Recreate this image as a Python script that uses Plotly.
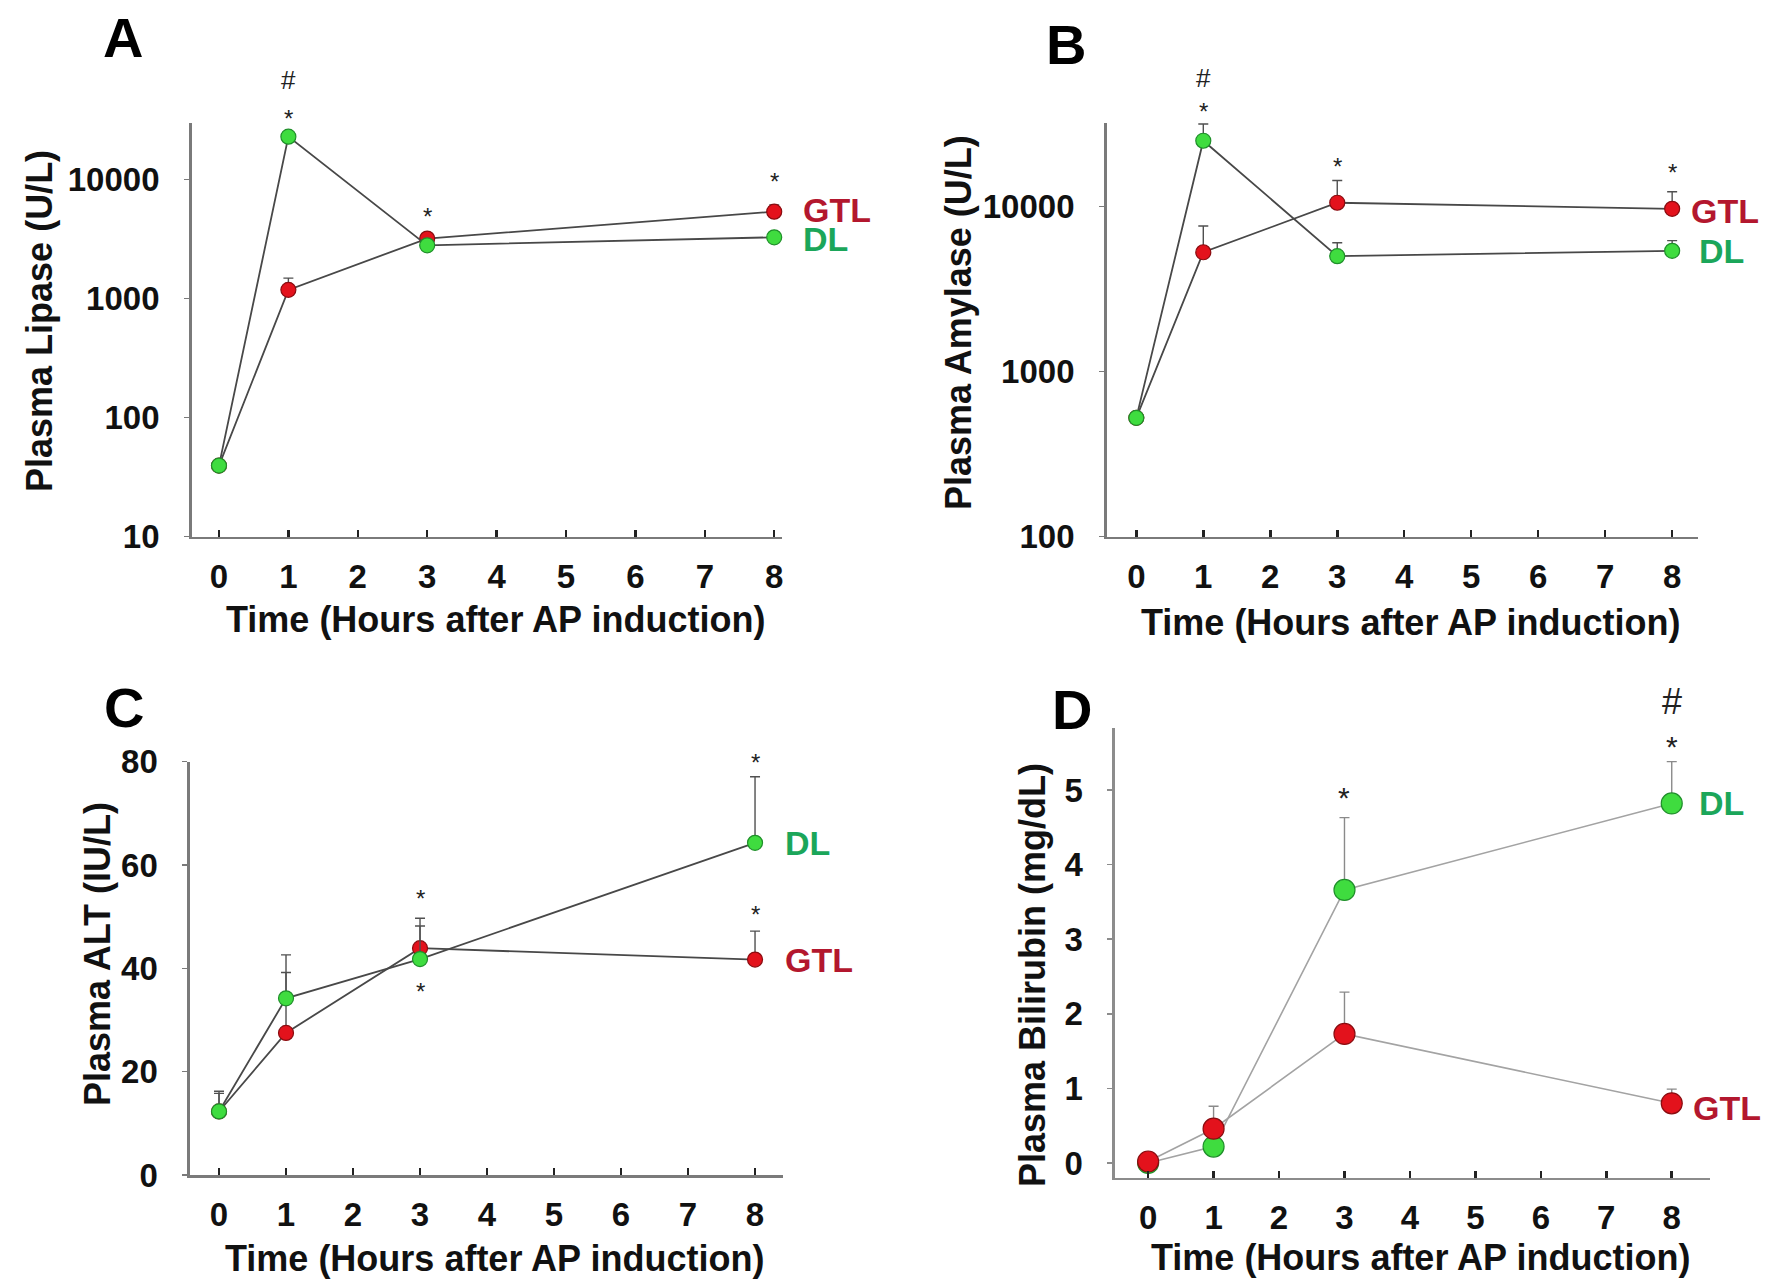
import math
import plotly.graph_objects as go

W, H = 1765, 1280

# ---------------- data ----------------
hours = [0, 1, 3, 8]
x_ticks = [0, 1, 2, 3, 4, 5, 6, 7, 8]

# Panel A - Plasma Lipase (U/L)
lipase_gtl = [39.5, 1180, 3180, 5350]
lipase_gtl_top = [39.5, 1480, 3450, 6100]
lipase_dl = [39.5, 22800, 2790, 3260]
lipase_dl_top = [39.5, 24500, 3050, 3600]
lipase_marks = [(1, 35800, "*"), (1, 68000, "#"), (3, 5350, "*"), (8, 10500, "*")]
lipase_ticks = [10, 100, 1000, 10000]

# Panel B - Plasma Amylase (U/L)
amylase_gtl = [524, 5290, 10560, 9700]
amylase_gtl_top = [524, 7640, 14400, 12300]
amylase_dl = [524, 25100, 5010, 5400]
amylase_dl_top = [524, 31700, 6040, 6220]
amylase_marks = [(1, 40300, "*"), (1, 60500, "#"), (3, 18900, "*"), (8, 17300, "*")]
amylase_ticks = [100, 1000, 10000]

# Panel C - Plasma ALT (IU/L)
alt_gtl = [12.3, 27.5, 43.9, 41.7]
alt_gtl_top = [15.8, 39.2, 49.7, 47.2]
alt_dl = [12.3, 34.2, 41.8, 64.3]
alt_dl_top = [16.2, 42.6, 48.2, 77.1]
alt_marks = [(3, 54.5, "*"), (3, 36.4, "*"), (8, 80.8, "*"), (8, 51.4, "*")]
alt_ticks = [0, 20, 40, 60, 80]

# Panel D - Plasma Bilirubin (mg/dL)
bili_gtl = [0.02, 0.46, 1.73, 0.80]
bili_gtl_top = [0.02, 0.76, 2.29, 0.99]
bili_dl = [0.0, 0.22, 3.66, 4.82]
bili_dl_top = [0.0, 0.55, 4.63, 5.38]
bili_marks = [(3, 4.97, "*"), (8, 5.65, "*"), (8, 6.18, "#")]
bili_ticks = [0, 1, 2, 3, 4, 5]

x_title = "Time (Hours after AP induction)"

# ---------------- style ----------------
FONT = "Liberation Sans, Arial, sans-serif"
RED_FILL, RED_EDGE = "#e3121c", "#8a0c10"
GRN_FILL, GRN_EDGE = "#3fdc3f", "#1f8f2a"
GTL_TXT, DL_TXT = "#b3172e", "#1ba65a"

def px_x(p):
    return p / W

def px_y(p):
    return 1 - p / H

panels = [
    dict(name="A", gtl=lipase_gtl, gtl_top=lipase_gtl_top, dl=lipase_dl, dl_top=lipase_dl_top,
         marks=lipase_marks, ticks=lipase_ticks, log=True, yr=[1, 4.475], xr=[-0.393, 8.118],
         dom_x=(191.7, 782.4), dom_y=(122.7, 536.7), ytitle="Plasma Lipase (U/L)",
         ytitle_pos=(40, 321), xtitle_y=619, letter_pos=(123, 38),
         gtl_shift=(27, 2), dl_shift=(27, -2), light=False, msize=15, dl_on_top=True),
    dict(name="B", gtl=amylase_gtl, gtl_top=amylase_gtl_top, dl=amylase_dl, dl_top=amylase_dl_top,
         marks=amylase_marks, ticks=amylase_ticks, log=True, yr=[2, 4.509], xr=[-0.442, 8.38],
         dom_x=(1106.7, 1697.6), dom_y=(122.7, 536.5), ytitle="Plasma Amylase (U/L)",
         ytitle_pos=(958, 323), xtitle_y=622, letter_pos=(1066, 44),
         gtl_shift=(17, -2), dl_shift=(25, 0), light=False, msize=15, dl_on_top=True),
    dict(name="C", gtl=alt_gtl, gtl_top=alt_gtl_top, dl=alt_dl, dl_top=alt_dl_top,
         marks=alt_marks, ticks=alt_ticks, log=False, yr=[0, 80], xr=[-0.433, 8.416],
         dom_x=(190, 782.9), dom_y=(761.7, 1175), ytitle="Plasma ALT (IU/L)",
         ytitle_pos=(97, 954), xtitle_y=1258, letter_pos=(124, 707),
         gtl_shift=(28, 0), dl_shift=(28, 0), light=False, msize=15, dl_on_top=True),
    dict(name="D", gtl=bili_gtl, gtl_top=bili_gtl_top, dl=bili_dl, dl_top=bili_dl_top,
         marks=bili_marks, ticks=bili_ticks, log=False, yr=[-0.197, 5.827], xr=[-0.506, 8.58],
         dom_x=(1115, 1709.7), dom_y=(728.3, 1177.7), ytitle="Plasma Bilirubin (mg/dL)",
         ytitle_pos=(1032, 975), xtitle_y=1257, letter_pos=(1072, 709),
         gtl_shift=(19, -5), dl_shift=(25, 0), light=True, msize=21, dl_on_top=False),
]

fig = go.Figure()
annotations = []
layout = {}

for i, p in enumerate(panels, start=1):
    xa = "x" if i == 1 else f"x{i}"
    ya = "y" if i == 1 else f"y{i}"
    line_col = "#a3a3a3" if p["light"] else "#484848"
    line_w = 1.6 if p["light"] else 1.8
    err_col = "#8a8a8a" if p["light"] else "#505050"

    def series(vals, tops, fill, edge, nm):
        return go.Scatter(
            x=hours, y=vals, mode="lines+markers", name=nm, xaxis=xa, yaxis=ya,
            line=dict(color=line_col, width=line_w),
            marker=dict(size=p["msize"], color=fill, line=dict(color=edge, width=1.2)),
            error_y=dict(type="data", symmetric=False,
                         array=[t - v for t, v in zip(tops, vals)],
                         arrayminus=[0] * len(vals),
                         color=err_col, thickness=1.4, width=5),
            showlegend=False, cliponaxis=False, hoverinfo="skip",
        )

    gtl_tr = series(p["gtl"], p["gtl_top"], RED_FILL, RED_EDGE, "GTL")
    dl_tr = series(p["dl"], p["dl_top"], GRN_FILL, GRN_EDGE, "DL")
    if p["dl_on_top"]:
        fig.add_trace(gtl_tr)
        fig.add_trace(dl_tr)
    else:
        fig.add_trace(dl_tr)
        fig.add_trace(gtl_tr)

    axis_col = "#8c8c8c" if p["light"] else "#7a7a7a"
    tfs = 33
    layout["xaxis" if i == 1 else f"xaxis{i}"] = dict(
        domain=[px_x(p["dom_x"][0]), px_x(p["dom_x"][1])], anchor=ya, automargin=False,
        range=p["xr"], tickvals=x_ticks, ticktext=[str(t) for t in x_ticks],
        showgrid=False, zeroline=False, showline=True, linecolor=axis_col, linewidth=2.6,
        ticks="inside", ticklen=7, tickwidth=2.5, tickcolor="#222222",
        tickfont=dict(family=FONT, size=tfs, color="#111111", weight="bold"),
        ticklabelstandoff=9, fixedrange=True,
    )
    if p["log"]:
        yax = dict(type="log", range=p["yr"], tickvals=p["ticks"],
                   ticktext=[str(t) for t in p["ticks"]])
    else:
        yax = dict(range=p["yr"], tickvals=p["ticks"], ticktext=[str(t) for t in p["ticks"]])
    yax.update(
        domain=[px_y(p["dom_y"][1]), px_y(p["dom_y"][0])], anchor=xa, automargin=False,
        showgrid=False, zeroline=False, showline=True, linecolor=axis_col, linewidth=2.6,
        ticks="outside", ticklen=5, tickwidth=1.5, tickcolor=axis_col,
        tickfont=dict(family=FONT, size=tfs, color="#111111", weight="bold"),
        ticklabelstandoff=18, fixedrange=True,
    )
    layout["yaxis" if i == 1 else f"yaxis{i}"] = yax

    def yv(v):
        return math.log10(v) if p["log"] else v

    def ypaper(v):
        r0, r1 = p["yr"]
        frac = (yv(v) - r0) / (r1 - r0)
        top_px, bot_px = p["dom_y"]
        return px_y(bot_px - frac * (bot_px - top_px))

    # significance marks (paper y so they can sit above the axis range)
    msz = 30 if p["light"] else 24
    for (mx, my, mt) in p["marks"]:
        sz = msz if mt == "*" else (msz + 6 if p["light"] else 26)
        annotations.append(dict(x=mx, y=ypaper(my), xref=xa, yref="paper", text=mt,
                                showarrow=False,
                                font=dict(family=FONT, size=sz, color="#222222"),
                                xanchor="center", yanchor="middle",
                                yshift=-5 if mt == "*" else 0))
    # series labels
    annotations.append(dict(x=8, y=yv(p["gtl"][-1]), xref=xa, yref=ya, text="GTL", showarrow=False,
                            xanchor="left", yanchor="middle", xshift=p["gtl_shift"][0],
                            yshift=p["gtl_shift"][1],
                            font=dict(family=FONT, size=34, color=GTL_TXT, weight="bold")))
    annotations.append(dict(x=8, y=yv(p["dl"][-1]), xref=xa, yref=ya, text="DL", showarrow=False,
                            xanchor="left", yanchor="middle", xshift=p["dl_shift"][0],
                            yshift=p["dl_shift"][1],
                            font=dict(family=FONT, size=34, color=DL_TXT, weight="bold")))
    # panel letter
    annotations.append(dict(x=px_x(p["letter_pos"][0]), y=px_y(p["letter_pos"][1]), xref="paper",
                            yref="paper", text=p["name"], showarrow=False, xanchor="center",
                            yanchor="middle",
                            font=dict(family=FONT, size=56, color="#000000", weight="bold")))
    # y title
    annotations.append(dict(x=px_x(p["ytitle_pos"][0]), y=px_y(p["ytitle_pos"][1]), xref="paper",
                            yref="paper", text=p["ytitle"], showarrow=False, textangle=-90,
                            xanchor="center", yanchor="middle",
                            font=dict(family=FONT, size=36, color="#111111", weight="bold")))
    # x title
    xc = (p["dom_x"][0] + p["dom_x"][1]) / 2 + 8
    annotations.append(dict(x=px_x(xc), y=px_y(p["xtitle_y"]), xref="paper", yref="paper",
                            text=x_title, showarrow=False, xanchor="center", yanchor="middle",
                            font=dict(family=FONT, size=36, color="#111111", weight="bold")))

fig.update_layout(
    width=W, height=H, margin=dict(l=0, r=0, t=0, b=0, pad=0, autoexpand=False),
    paper_bgcolor="white", plot_bgcolor="white", hovermode=False,
    annotations=annotations, **layout,
)

fig.write_html("out.html",
               config={"displayModeBar": False, "staticPlot": True},
               post_script="document.body.style.margin='0px';document.body.style.overflow='hidden';")
